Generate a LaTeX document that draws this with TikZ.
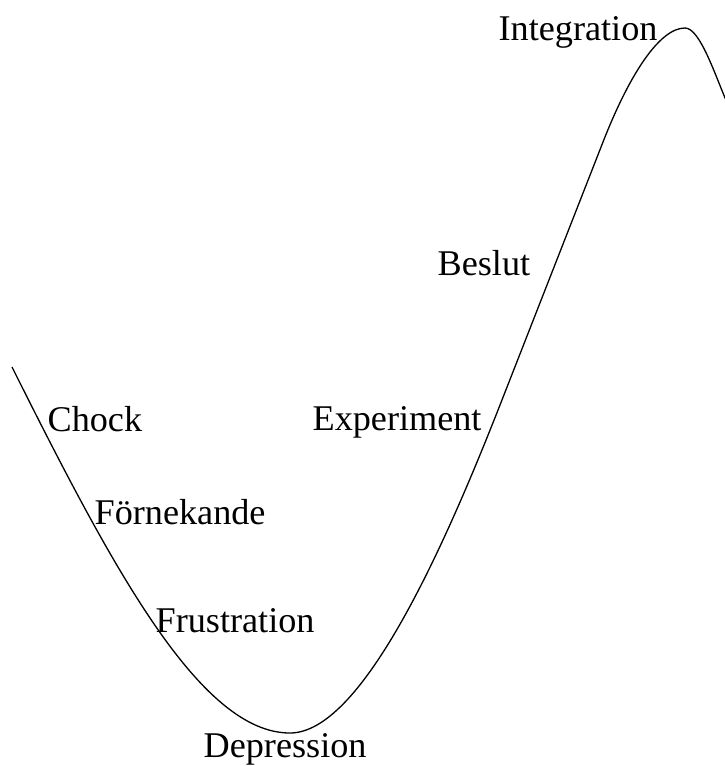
\documentclass[tikz,border=0pt]{standalone}
\usepackage{fontspec}
\setmainfont{Liberation Serif}
\usepackage{tikz}

\begin{document}
\begin{tikzpicture}[x=1pt, y=-1pt, line width=1.3pt,
    phase/.style={anchor=base west, inner sep=0pt, font=\fontsize{36.2}{44}\selectfont}]
    \useasboundingbox (0,0) rectangle (724,766);

    % the curve
    \draw (12,367) .. controls (112,567) and (200,733) .. (290,733)
          .. controls (360,733) and (440,558) .. (500,405)
          -- (603,142)
          .. controls (630,73) and (660,28) .. (685,28)
          .. controls (700,28) and (715,75) .. (728,105);

    \node[phase] (chock) at (47,431) {Chock};
    \node[phase] (fornekande) at (94,524) {Förnekande};
    \node[phase] (frustration) at (155,632) {Frustration};
    \node[phase] (depression) at (203,757) {Depression};
    \node[phase] (experiment) at (312,430) {Experiment};
    \node[phase] (beslut) at (437,275) {Beslut};
    \node[phase] (integration) at (498,40) {Integration};
\end{tikzpicture}
\end{document}
